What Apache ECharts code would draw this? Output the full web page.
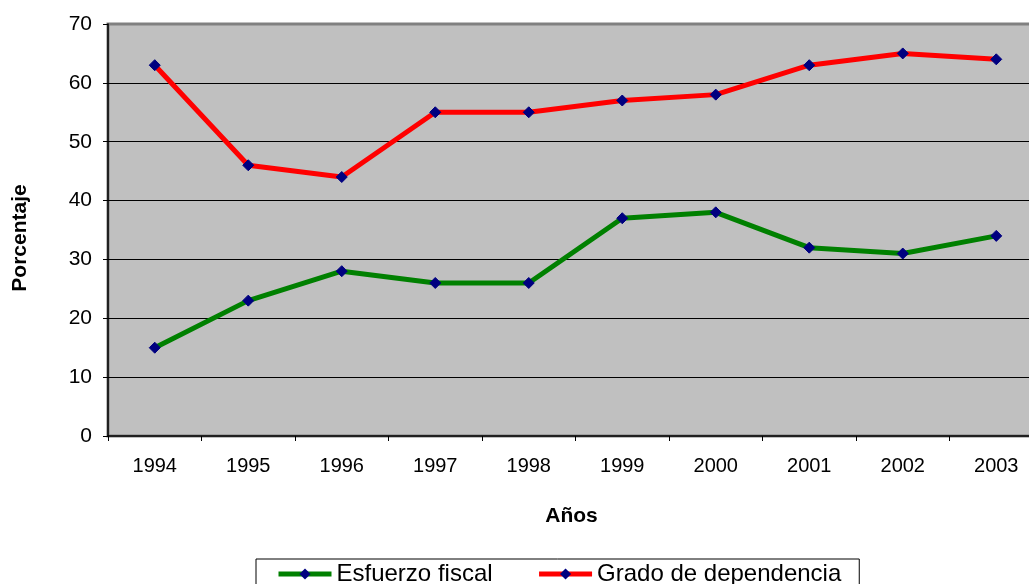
<!DOCTYPE html>
<html>
<head>
<meta charset="utf-8">
<script src="https://cdn.jsdelivr.net/npm/echarts@6/dist/echarts.min.js"></script>
<style>
  html, body { margin: 0; padding: 0; background: #fff; }
  #chart { width: 1029px; height: 584px; }
</style>
</head>
<body>
<div id="chart"></div>
<script>
// datos
var years = ['1994', '1995', '1996', '1997', '1998', '1999', '2000', '2001', '2002', '2003'];
var esfuerzoFiscal = [15, 23, 28, 26, 26, 37, 38, 32, 31, 34];
var gradoDependencia = [63, 46, 44, 55, 55, 57, 58, 63, 65, 64];
var yTicks = [0, 10, 20, 30, 40, 50, 60, 70];

var font = 'Arial, "Liberation Sans", sans-serif';
var chart = echarts.init(document.getElementById('chart'));

chart.setOption({
  backgroundColor: '#fff',
  animation: false,
  legend: {
    left: 256,
    top: 559,
    itemWidth: 53,
    itemHeight: 14,
    itemGap: 44,
    padding: [3, 18, 10, 20],
    borderColor: '#000',
    borderWidth: 1,
    textStyle: { fontFamily: font, fontSize: 24, color: '#000' },
    lineStyle: { width: 5 },
    data: ['Esfuerzo fiscal', 'Grado de dependencia']
  },
  grid: {
    left: 108,
    top: 24,
    width: 935,
    bottom: 148,
    outerBoundsMode: 'none',
    containLabel: false,
    show: true,
    backgroundColor: '#c0c0c0',
    borderColor: '#808080',
    borderWidth: 3
  },
  xAxis: {
    type: 'category',
    data: years,
    boundaryGap: true,
    name: 'Años',
    nameLocation: 'middle',
    nameGap: 70,
    nameTextStyle: { fontFamily: font, fontSize: 21, fontWeight: 'bold', color: '#000', padding: [0, 8, 0, 0] },
    axisLine: { lineStyle: { color: '#000', width: 1.5 } },
    axisTick: { show: true, length: 5, lineStyle: { color: '#000' } },
    axisLabel: { fontFamily: font, fontSize: 20, color: '#000', margin: 20 },
    splitLine: { show: false }
  },
  yAxis: {
    type: 'value',
    min: yTicks[0],
    max: yTicks[yTicks.length - 1],
    interval: 10,
    name: 'Porcentaje',
    nameLocation: 'middle',
    nameGap: 77,
    nameRotate: 90,
    nameTextStyle: { fontFamily: font, fontSize: 21, fontWeight: 'bold', color: '#000', padding: [0, 16, 0, 0] },
    axisLine: { show: true, lineStyle: { color: '#000', width: 1.5 } },
    axisTick: { show: true, length: 5, lineStyle: { color: '#000' } },
    axisLabel: { fontFamily: font, fontSize: 21, color: '#000', margin: 16 },
    splitLine: { show: true, showMaxLine: false, showMinLine: false, lineStyle: { color: '#000', width: 1 } }
  },
  series: [
    {
      name: 'Esfuerzo fiscal',
      type: 'line',
      data: esfuerzoFiscal,
      symbol: 'diamond',
      symbolSize: 11,
      lineStyle: { color: '#008000', width: 5 },
      itemStyle: { color: '#000080', borderColor: '#000080' },
      color: '#008000'
    },
    {
      name: 'Grado de dependencia',
      type: 'line',
      data: gradoDependencia,
      symbol: 'diamond',
      symbolSize: 11,
      lineStyle: { color: '#ff0000', width: 5 },
      itemStyle: { color: '#000080', borderColor: '#000080' },
      color: '#ff0000'
    }
  ]
});
</script>
</body>
</html>
